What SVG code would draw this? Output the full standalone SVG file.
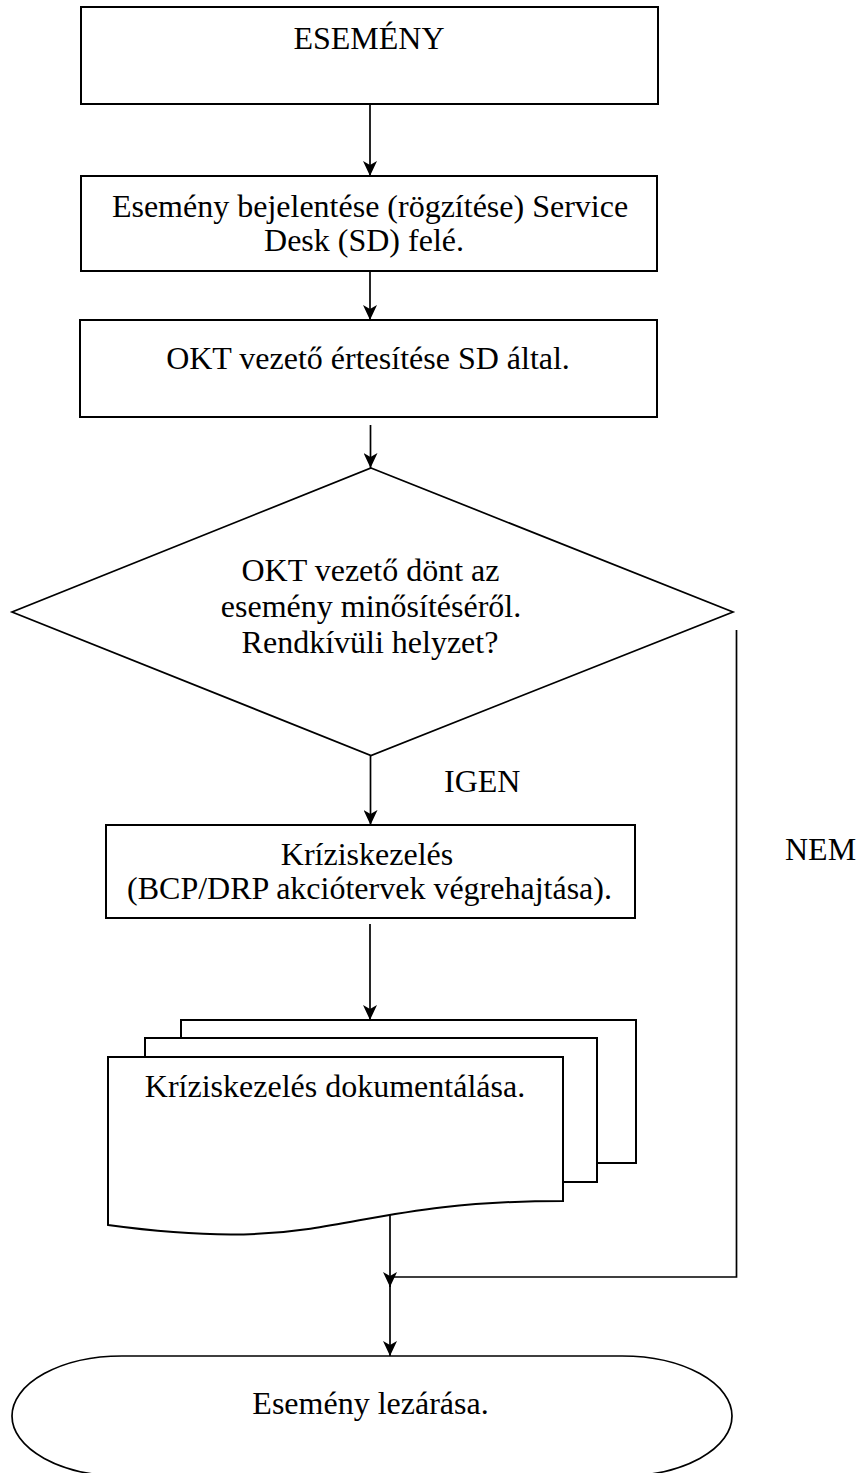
<svg xmlns="http://www.w3.org/2000/svg" width="860" height="1473" viewBox="0 0 860 1473">
<style>
  .box { fill: #fff; stroke: #000; stroke-width: 2; }
  .shape { fill: #fff; stroke: #000; stroke-width: 1.7; }
  .ln { fill: none; stroke: #000; stroke-width: 1.7; }
  text { font-family: "Liberation Serif", "Times New Roman", serif; font-size: 32px; fill: #000; }
  .c { text-anchor: middle; }
</style>
<defs>
  <marker id="arr" viewBox="0 0 16 14" refX="15" refY="7" markerWidth="16" markerHeight="14" markerUnits="userSpaceOnUse" orient="auto">
    <path d="M0,0 L15,7 L0,14 L4,7 Z" fill="#000"/>
  </marker>
</defs>

<g id="connectors">
  <line class="ln" x1="370" y1="104" x2="370" y2="176" marker-end="url(#arr)"/>
  <line class="ln" x1="370" y1="271" x2="370" y2="320" marker-end="url(#arr)"/>
  <line class="ln" x1="370.5" y1="425" x2="370.5" y2="468" marker-end="url(#arr)"/>
  <line class="ln" x1="370.5" y1="756" x2="370.5" y2="825" marker-end="url(#arr)"/>
  <line class="ln" x1="370" y1="924" x2="370" y2="1020" marker-end="url(#arr)"/>
  <line class="ln" x1="390" y1="1215" x2="390" y2="1287" marker-end="url(#arr)"/>
  <polyline class="ln" points="736.5,630 736.5,1277 390,1277"/>
  <line class="ln" x1="390" y1="1285" x2="390" y2="1356" marker-end="url(#arr)"/>
</g>

<g id="event">
  <rect class="box" x="81" y="7" width="577" height="97"/>
  <text class="c" x="369" y="49">ESEMÉNY</text>
</g>

<g id="report">
  <rect class="box" x="81" y="176" width="576" height="95"/>
  <text class="c" x="370" y="217">Esemény bejelentése (rögzítése) Service</text>
  <text class="c" x="364" y="251">Desk (SD) felé.</text>
</g>

<g id="notify">
  <rect class="box" x="80" y="320" width="577" height="97"/>
  <text class="c" x="368" y="369">OKT vezető értesítése SD által.</text>
</g>

<g id="decision">
  <polygon class="shape" points="371,468 733,612 371,755.5 12,612"/>
  <text class="c" x="370.5" y="581">OKT vezető dönt az</text>
  <text class="c" x="371" y="617">esemény minősítéséről.</text>
  <text class="c" x="370" y="653">Rendkívüli helyzet?</text>
</g>

<g id="label-igen">
  <text x="444" y="792">IGEN</text>
</g>

<g id="label-nem">
  <text x="785" y="860">NEM</text>
</g>

<g id="crisis">
  <rect class="box" x="106" y="825" width="529" height="93"/>
  <text class="c" x="367" y="865">Kríziskezelés</text>
  <text class="c" x="369.5" y="899">(BCP/DRP akciótervek végrehajtása).</text>
</g>

<g id="documents">
  <polyline class="box" points="181,1038 181,1020 636,1020 636,1163 597,1163"/>
  <polyline class="box" points="145,1057 145,1038 597,1038 597,1182 563,1182"/>
  <path class="box" d="M108,1057 H563 V1201 C335.5,1201 335.5,1256 108,1225 Z"/>
  <text class="c" x="335" y="1097">Kríziskezelés dokumentálása.</text>
</g>

<g id="close">
  <path class="shape" d="M122,1356 L622,1356 A110,60 0 0 1 622,1476 L122,1476 A110,60 0 0 1 122,1356 Z"/>
  <text class="c" x="370.5" y="1414">Esemény lezárása.</text>
</g>
</svg>
